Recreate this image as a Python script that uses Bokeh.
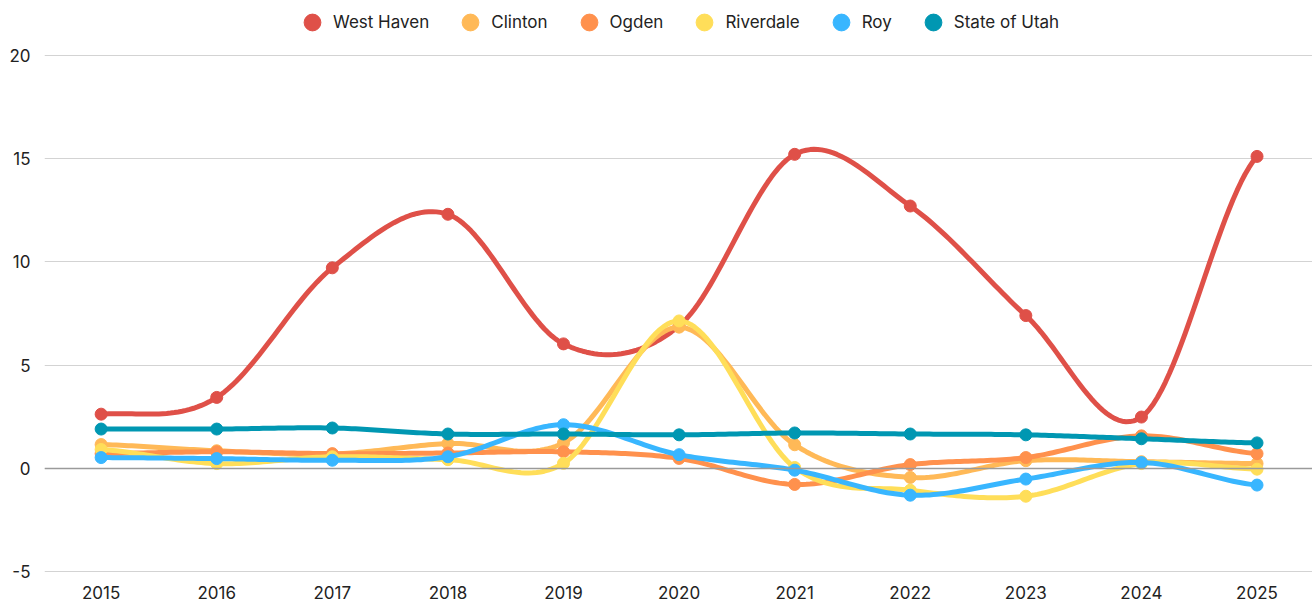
import numpy as np
from bokeh.plotting import figure
from bokeh.layouts import column
from bokeh.models import Legend, LegendItem, Span, FixedTicker
from bokeh.embed import file_html
from bokeh.resources import INLINE

years = [2015, 2016, 2017, 2018, 2019, 2020, 2021, 2022, 2023, 2024, 2025]
series_names = ["West Haven", "Clinton", "Ogden", "Riverdale", "Roy", "State of Utah"]
west_haven = [2.63, 3.44, 9.71, 12.3, 6.03, 6.9, 15.2, 12.7, 7.4, 2.49, 15.1]
clinton = [1.16, 0.86, 0.70, 1.21, 1.24, 6.84, 1.15, -0.43, 0.38, 0.33, 0.24]
ogden = [0.72, 0.81, 0.72, 0.75, 0.81, 0.49, -0.77, 0.19, 0.53, 1.58, 0.72]
riverdale = [0.92, 0.24, 0.57, 0.43, 0.25, 7.14, 0.05, -1.05, -1.34, 0.24, -0.03]
roy = [0.53, 0.48, 0.40, 0.57, 2.12, 0.67, -0.08, -1.29, -0.51, 0.29, -0.80]
state_of_utah = [1.91, 1.91, 1.96, 1.67, 1.67, 1.63, 1.72, 1.67, 1.63, 1.44, 1.24]
colors = ["#DF5048", "#FFB957", "#FF914D", "#FFDE59", "#38B6FF", "#0097B2"]
y_ticks = [-5, 0, 5, 10, 15, 20]
y_tick_labels = ["-5", "0", "5", "10", "15", "20"]

all_series = [west_haven, clinton, ogden, riverdale, roy, state_of_utah]

FONT = "Inter"
W = 1312
LEG_H = 36
MAIN_H = 601 - LEG_H
LEFT, TOP, BOTTOM = 44, 54 - LEG_H, 25


def smooth(xs, ys, k=0.5, n=30):
    xs = np.asarray(xs, float)
    ys = np.asarray(ys, float)
    m = len(ys)
    t = np.zeros(m)
    for i in range(m):
        if i == 0:
            t[i] = k * (ys[1] - ys[0])
        elif i == m - 1:
            t[i] = k * (ys[-1] - ys[-2])
        else:
            t[i] = k * (ys[i + 1] - ys[i - 1])
    ox, oy = [], []
    for i in range(m - 1):
        s = np.linspace(0, 1, n, endpoint=(i == m - 2))
        h00 = 2 * s**3 - 3 * s**2 + 1
        h10 = s**3 - 2 * s**2 + s
        h01 = -2 * s**3 + 3 * s**2
        h11 = s**3 - s**2
        yy = h00 * ys[i] + h10 * t[i] + h01 * ys[i + 1] + h11 * t[i + 1]
        xx = xs[i] + s * (xs[i + 1] - xs[i])
        ox.extend(xx)
        oy.extend(yy)
    return ox, oy


# Legend strip (legend marker size is 0.4 of the glyph box -> box 42 gives ~17px circle)
GBOX = 42
lf = figure(width=W, height=LEG_H, output_backend="svg", toolbar_location=None,
            x_range=(0, 1), y_range=(0, 1), x_axis_type=None, y_axis_type=None,
            min_border=0)
lf.outline_line_color = None
lf.xgrid.visible = False
lf.ygrid.visible = False

items = []
for name, col in zip(series_names, colors):
    dummy = lf.scatter(x=[-10], y=[-10], size=16, fill_color=col, line_color=col, marker="circle")
    items.append(LegendItem(label=name, renderers=[dummy]))

center_from_bottom = LEG_H - 22
legend = Legend(items=items, orientation="horizontal",
                location=(312 - GBOX // 2 - LEFT, center_from_bottom - GBOX // 2),
                label_text_font=FONT, label_text_font_size="17px", label_text_color="#222222",
                label_height=20, glyph_width=GBOX, glyph_height=GBOX, label_standoff=-2, spacing=20,
                border_line_color=None, background_fill_alpha=0, padding=0, margin=0)
lf.add_layout(legend, "center")

# Main chart
p = figure(width=W, height=MAIN_H, output_backend="svg", toolbar_location=None,
           x_range=(2014.51, 2025.48), y_range=(-5.03, 20.03),
           min_border_left=LEFT, min_border_right=0, min_border_bottom=BOTTOM, min_border_top=TOP)
p.outline_line_color = None
p.background_fill_color = "white"
p.border_fill_color = "white"

p.xgrid.grid_line_color = None
p.ygrid.grid_line_color = "#d3d3d3"
p.ygrid.grid_line_width = 1
p.ygrid.ticker = FixedTicker(ticks=y_ticks)

p.yaxis.ticker = FixedTicker(ticks=y_ticks)
p.yaxis.major_label_overrides = {t: s for t, s in zip(y_ticks, y_tick_labels)}
p.xaxis.ticker = FixedTicker(ticks=years)
for ax in (p.xaxis, p.yaxis):
    ax.axis_line_color = None
    ax.major_tick_line_color = None
    ax.minor_tick_line_color = None
    ax.major_label_text_font = FONT
    ax.major_label_text_font_size = "17px"
    ax.major_label_text_color = "#222222"
p.yaxis.major_label_standoff = 8
p.xaxis.major_label_standoff = 7

p.add_layout(Span(location=0, dimension="width", line_color="#9a9a9a", line_width=1.5))

for name, vals, col in zip(series_names, all_series, colors):
    sx, sy = smooth(years, vals)
    p.line(sx, sy, line_color=col, line_width=5, line_join="round", line_cap="round")
    p.scatter(years, vals, size=12, fill_color=col, line_color=col, marker="circle")

layout = column(lf, p, spacing=0)
open("out.html", "w").write(file_html(layout, INLINE))
